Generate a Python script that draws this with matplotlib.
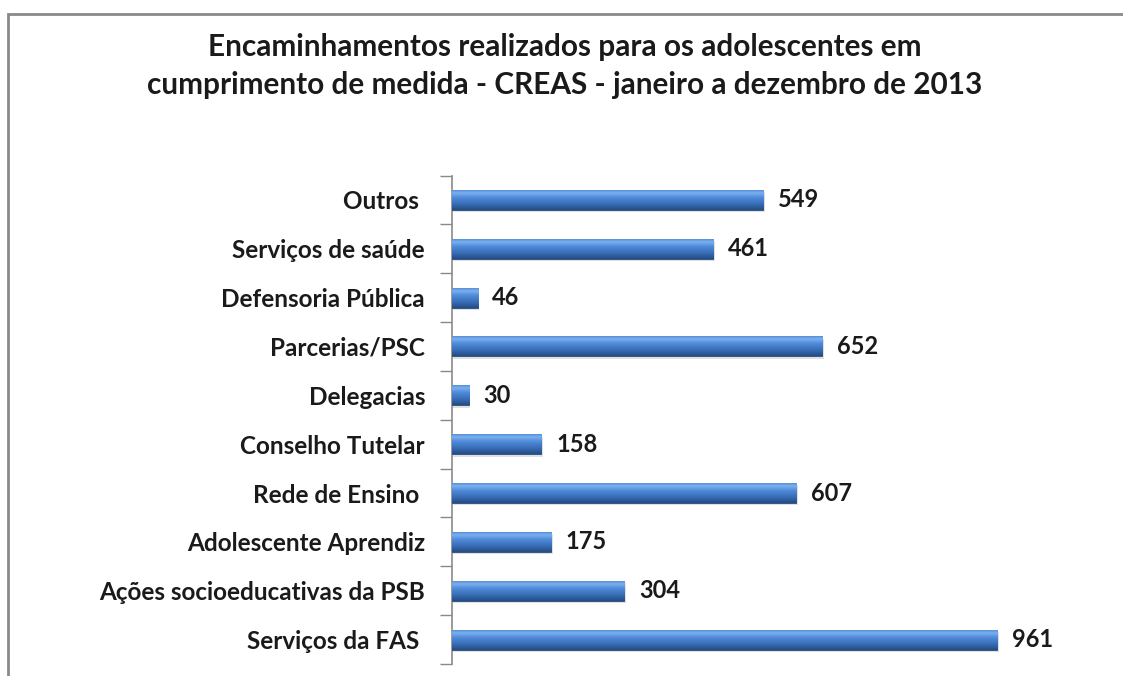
import numpy as np
import matplotlib
matplotlib.use("Agg")
import matplotlib.pyplot as plt
from matplotlib.patches import Rectangle
from matplotlib.colors import LinearSegmentedColormap

categories = ["Serviços da FAS ", "Ações socioeducativas da PSB", "Adolescente Aprendiz",
              "Rede de Ensino ", "Conselho Tutelar", "Delegacias", "Parcerias/PSC",
              "Defensoria Pública", "Serviços de saúde", "Outros "]
values = [961, 304, 175, 607, 158, 30, 652, 46, 461, 549]
title = ("Encaminhamentos realizados para os adolescentes em\n"
         "cumprimento de medida - CREAS - janeiro a dezembro de 2013")

plt.rcParams['font.family'] = ['Lato', 'DejaVu Sans']

fig = plt.figure(figsize=(11.23, 6.76), dpi=100)
fig.patch.set_facecolor('white')

# outer chart frame (cut off at right/bottom like the screenshot)
fig.patches.append(Rectangle((8 / 1123, -0.1), 1.2, 0.98 + 0.1, transform=fig.transFigure,
                             fill=False, edgecolor='#8a8a8a', linewidth=2))

ax = fig.add_axes([451.5 / 1123, 12 / 676, 568 / 1123, 488.5 / 676])
ax.set_xlim(0, 1000)
ax.set_ylim(-0.5, len(categories) - 0.5)

bar_h = 0.41
bars = ax.barh(range(len(categories)), values, height=bar_h, color='#4a84d0',
               edgecolor='#24497c', linewidth=0.6, zorder=3)

# blue cylinder-like gradient inside each bar
grad_cmap = LinearSegmentedColormap.from_list(
    'bar', [(0.0, '#244c84'), (0.3, '#3a6fb8'), (0.6, '#4f8ad9'),
            (0.82, '#7cb2f0'), (1.0, '#4a84d0')])
grad = np.linspace(0, 1, 64).reshape(-1, 1)
for b in bars:
    x0, y0, w, h = b.get_x(), b.get_y(), b.get_width(), b.get_height()
    # soft drop shadow
    ax.add_patch(Rectangle((x0 + 3, y0 - 0.05), w, h, facecolor='#000000', alpha=0.12,
                           edgecolor='none', zorder=2))
    im = ax.imshow(grad, extent=(x0, x0 + w, y0, y0 + h), cmap=grad_cmap,
                   aspect='auto', origin='lower', zorder=3.5, interpolation='bicubic')
    im.set_clip_path(b)

for i, v in enumerate(values):
    ax.text(v + 26, i, str(v), va='center', ha='left', fontsize=17,
            fontweight='bold', color='#1a1a1a', zorder=5)

ax.set_yticks(range(len(categories)))
ax.set_yticklabels(categories, fontsize=17.5, fontweight='bold', color='#1a1a1a')
ax.set_yticks(np.arange(-0.5, len(categories), 1), minor=True)
ax.tick_params(axis='y', which='major', length=0, pad=19)
ax.tick_params(axis='y', which='minor', length=9, width=1, color='#8a8a8a')
ax.set_xticks([])
for s in ['top', 'right', 'bottom']:
    ax.spines[s].set_visible(False)
ax.spines['left'].set_color('#8a8a8a')
ax.spines['left'].set_linewidth(1.2)

fig.text(565 / 1123, 1 - 66 / 676, title, ha='center', va='center', fontsize=21.4,
         fontweight='bold', color='#1a1a1a', linespacing=1.4)

fig.savefig('out.png', dpi=100)
